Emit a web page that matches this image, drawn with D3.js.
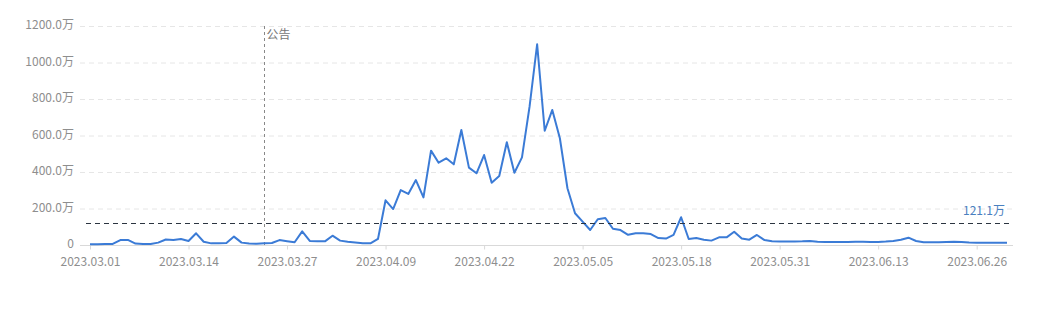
<!DOCTYPE html>
<html>
<head>
<meta charset="utf-8">
<script src="https://cdn.jsdelivr.net/npm/d3@7"></script>
<style>
  html, body { margin: 0; padding: 0; background: #fff; }
  svg { display: block; font-family: "Noto Sans CJK SC", "Noto Sans", sans-serif; }
</style>
</head>
<body>
<svg id="chart" width="1048" height="318"></svg>
<script>
// ---- data ----
const startDate = "2023-03-01";
const values = [
  4, 4, 5, 6, 27, 28, 8, 6, 6, 13,
  30, 27, 33, 22, 64, 18, 9, 9, 11, 46,
  13, 8, 7, 9, 11, 27, 21, 15, 75, 22,
  20, 20, 51, 24, 18, 14, 10, 9, 33, 245,
  197, 301, 280, 356, 261, 517, 451, 475, 442, 630,
  424, 393, 493, 341, 378, 563, 396, 480, 758, 1100,
  626, 740, 585, 311, 174, 128, 82, 141, 148, 89,
  82, 56, 64, 65, 60, 38, 35, 55, 152, 33,
  38, 29, 24, 42, 42, 73, 35, 29, 55, 27,
  20, 19, 19, 19, 20, 22, 18, 16, 16, 16,
  17, 18, 18, 17, 17, 19, 22, 29, 40, 22,
  15, 15, 15, 17, 18, 16, 14, 13, 12, 12,
  12, 13
];
const xTickLabels = ["2023.03.01","2023.03.14","2023.03.27","2023.04.09","2023.04.22","2023.05.05","2023.05.18","2023.05.31","2023.06.13","2023.06.26"];
const yTicks = [0, 200, 400, 600, 800, 1000, 1200];
const eventDate = "2023-03-24";
const eventLabel = "公告";
const meanValue = 121.1;

// ---- build ----
const parse = d3.timeParse("%Y-%m-%d");
const day0 = parse(startDate);
const dates = values.map((v, i) => d3.timeDay.offset(day0, i));
const data = values.map((v, i) => ({ date: dates[i], value: v }));

const svg = d3.select("#chart");
const gridLeft = 80, gridRight = 1013;
const x = d3.scaleTime().domain([dates[0], dates[dates.length - 1]]).range([90, 1007]);
const y = d3.scaleLinear().domain([0, 1200]).range([245, 26]);

// horizontal grid lines
svg.append("g").selectAll("line")
  .data(yTicks.filter(t => t > 0))
  .join("line")
  .attr("x1", gridLeft).attr("x2", gridRight)
  .attr("y1", d => y(d) + 0.5).attr("y2", d => y(d) + 0.5)
  .attr("stroke", "#e6e6e6").attr("stroke-dasharray", "5,4");

// y axis labels
const yAxis = d3.axisLeft(y).tickValues(yTicks).tickSize(0).tickPadding(0)
  .tickFormat(d => d === 0 ? "0" : d.toFixed(1) + "万");
const gy = svg.append("g").attr("transform", "translate(74,-1)").call(yAxis);
gy.select(".domain").remove();
gy.selectAll("text").attr("fill", "#8e8e8e").style("font-size", "12px")
  .attr("font-family", "\"Noto Sans CJK SC\", sans-serif");

// x axis
const tickDates = xTickLabels.map(s => d3.timeParse("%Y.%m.%d")(s));
const xAxis = d3.axisBottom(x).tickValues(tickDates).tickSize(4).tickPadding(8)
  .tickFormat(d3.timeFormat("%Y.%m.%d"));
const gx = svg.append("g").attr("transform", "translate(0,245.5)").call(xAxis);
gx.select(".domain").remove();
gx.selectAll(".tick line").attr("stroke", "#d9d9d9");
gx.selectAll("text").attr("fill", "#8e8e8e").style("font-size", "12px")
  .attr("font-family", "\"Noto Sans CJK SC\", sans-serif");
svg.append("line")
  .attr("x1", gridLeft).attr("x2", gridRight)
  .attr("y1", y(0) + 0.5).attr("y2", y(0) + 0.5)
  .attr("stroke", "#d9d9d9");

// event marker
const ex = Math.round(x(parse(eventDate))) + 0.5;
svg.append("line")
  .attr("x1", ex).attr("x2", ex).attr("y1", y(1200)).attr("y2", y(0))
  .attr("stroke", "#888").attr("stroke-dasharray", "3,3");
svg.append("text").attr("x", ex + 2).attr("y", y(1200) + 13)
  .attr("fill", "#777").style("font-size", "12px").text(eventLabel);

// line
svg.append("path").datum(data)
  .attr("fill", "none").attr("stroke", "#3b7bd6").attr("stroke-width", 2)
  .attr("stroke-linejoin", "round")
  .attr("d", d3.line().x(d => x(d.date)).y(d => y(d.value)));

// mean line
svg.append("line")
  .attr("x1", 86).attr("x2", gridRight)
  .attr("y1", Math.round(y(meanValue)) + 0.5).attr("y2", Math.round(y(meanValue)) + 0.5)
  .attr("stroke", "#2b3440").attr("stroke-dasharray", "5,4");
svg.append("text").attr("x", 1005).attr("y", y(meanValue) - 8)
  .attr("text-anchor", "end").attr("fill", "#4a80c0").style("font-size", "12px")
  .text(meanValue.toFixed(1) + "万");
</script>
</body>
</html>
